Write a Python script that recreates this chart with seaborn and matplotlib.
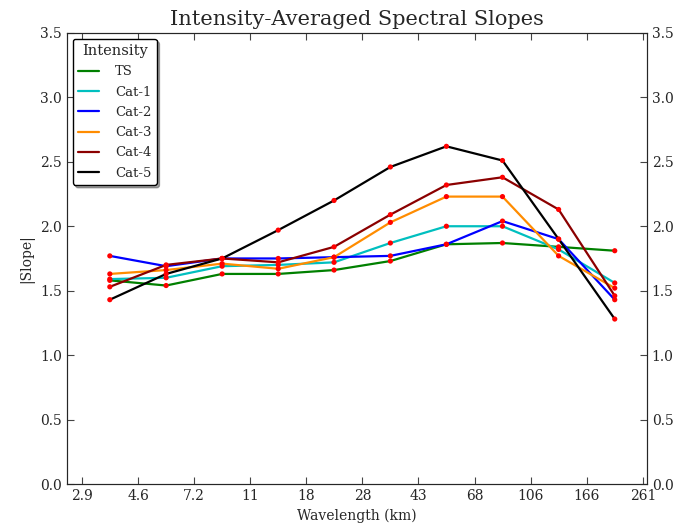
import numpy as np
import pandas as pd
import seaborn as sns
import matplotlib
matplotlib.use("Agg")
import matplotlib.pyplot as plt
from matplotlib.ticker import NullLocator

# wavelength bins (km) and the tick labels on the log axis
wavelengths = [3.63, 5.70, 8.93, 14.0, 21.9, 34.4, 53.9, 84.5, 132.5, 207.8]
tick_values = [2.9, 4.55, 7.13, 11.18, 17.53, 27.49, 43.1, 67.6, 106.0, 166.2, 260.6]
tick_labels = ["2.9", "4.6", "7.2", "11", "18", "28", "43", "68", "106", "166", "261"]

# |slope| per intensity class
ts = [1.58, 1.54, 1.63, 1.63, 1.66, 1.73, 1.86, 1.87, 1.84, 1.81]
cat1 = [1.59, 1.60, 1.69, 1.70, 1.72, 1.87, 2.00, 2.00, 1.82, 1.56]
cat2 = [1.77, 1.69, 1.75, 1.75, 1.76, 1.77, 1.86, 2.04, 1.90, 1.43]
cat3 = [1.63, 1.66, 1.71, 1.67, 1.76, 2.03, 2.23, 2.23, 1.77, 1.52]
cat4 = [1.53, 1.70, 1.75, 1.72, 1.84, 2.09, 2.32, 2.38, 2.13, 1.46]
cat5 = [1.43, 1.63, 1.75, 1.97, 2.20, 2.46, 2.62, 2.51, 1.90, 1.28]

names = ["TS", "Cat-1", "Cat-2", "Cat-3", "Cat-4", "Cat-5"]
colors = ["green", "c", "blue", "darkorange", "darkred", "black"]

rows = []
for name, vals in zip(names, [ts, cat1, cat2, cat3, cat4, cat5]):
    for w, v in zip(wavelengths, vals):
        rows.append({"Wavelength": w, "Slope": v, "Intensity": name})
df = pd.DataFrame(rows)

sns.set_style("ticks")
plt.rcParams["font.family"] = ["DejaVu Serif"]
plt.rcParams["xtick.direction"] = "in"
plt.rcParams["ytick.direction"] = "in"
plt.rcParams["xtick.top"] = True

fig = plt.figure(figsize=(6.81, 5.31), dpi=100)
ax = fig.add_axes([0.098, 0.0885, 0.852, 0.8495])

sns.lineplot(data=df, x="Wavelength", y="Slope", hue="Intensity",
             palette=dict(zip(names, colors)), hue_order=names,
             linewidth=1.6, ax=ax, legend=False)
sns.scatterplot(data=df, x="Wavelength", y="Slope", color="red",
                s=14, edgecolor="none", ax=ax, legend=False, zorder=5)

ax.set_xscale("log")
ax.set_xlim(2.57, 269)
ax.set_ylim(0, 3.5)
ax.set_xticks(tick_values)
ax.set_xticklabels(tick_labels)
ax.xaxis.set_minor_locator(NullLocator())
ax.set_yticks(np.arange(0, 3.51, 0.5))
ax.tick_params(labelsize=10, length=5, color="#444444")
ax.set_xlabel("Wavelength (km)", fontsize=10)
ax.set_ylabel("|Slope|", fontsize=10)
ax.set_title("Intensity-Averaged Spectral Slopes", fontsize=15)
for sp in ax.spines.values():
    sp.set_color("#444444")

ax2 = ax.twinx()
ax2.set_ylim(0, 3.5)
ax2.set_yticks(np.arange(0, 3.51, 0.5))
ax2.tick_params(labelsize=10, length=5, direction="in", color="#444444")

handles = [plt.Line2D([], [], color=c, linewidth=1.6) for c in colors]
leg = ax.legend(handles, names, title="Intensity", loc="upper left",
                fontsize=9.5, title_fontsize=10.5, shadow=True, fancybox=True,
                handlelength=1.6, handletextpad=1.2, borderaxespad=0.45,
                labelspacing=0.55)
leg.get_frame().set_edgecolor("black")
leg.get_frame().set_alpha(1)

fig.savefig("out.png", dpi=100)
